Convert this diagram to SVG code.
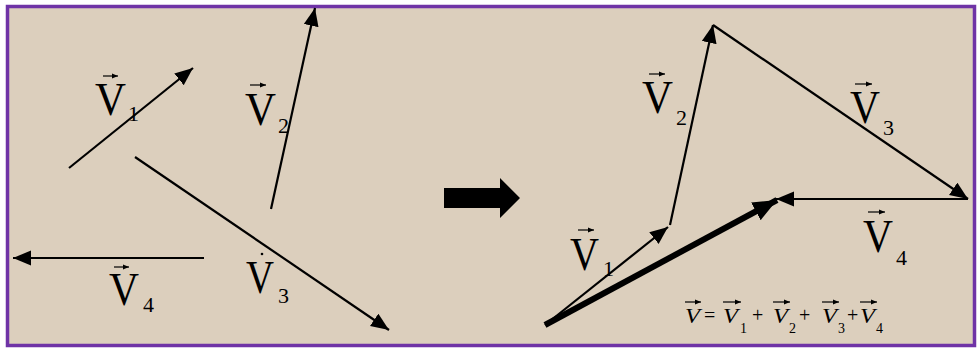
<svg xmlns="http://www.w3.org/2000/svg" width="980" height="350" viewBox="0 0 980 350">
<defs>
<style>
.vec{stroke:#000;stroke-width:2.2;fill:none}
.res{stroke:#000;stroke-width:6;fill:none}
.lbl{font-family:"Liberation Serif","Times New Roman",serif;font-size:46px;fill:#000}
.sub{font-family:"Liberation Serif","Times New Roman",serif;font-size:22px;fill:#000}
.fm{font-family:"Liberation Serif","Times New Roman",serif;font-style:italic;font-size:22px;fill:#000}
.fs{font-family:"Liberation Serif","Times New Roman",serif;font-size:14px;fill:#000}
.op{font-family:"Liberation Serif","Times New Roman",serif;font-size:20px;fill:#000}
.ov{stroke:#000;stroke-width:1.2;fill:none}
</style>
<marker id="ah" markerUnits="userSpaceOnUse" markerWidth="20" markerHeight="16" refX="18" refY="7.5" orient="auto">
<path d="M0,0 L18,7.5 L0,15 Z" fill="#000"/>
</marker>
<marker id="ahBig" markerUnits="userSpaceOnUse" markerWidth="26" markerHeight="22" refX="24" refY="10" orient="auto">
<path d="M0,0 L24,10 L0,20 Z" fill="#000"/>
</marker>
<marker id="ahs" markerUnits="userSpaceOnUse" markerWidth="8" markerHeight="8" refX="6" refY="3" orient="auto">
<path d="M0,0.5 L6,3 L0,5.5 Z" fill="#000"/>
</marker>
</defs>
<rect x="0" y="0" width="980" height="350" fill="#ffffff"/>
<rect x="7.5" y="6.5" width="967" height="339" fill="#dccfbd" stroke="#6f33a6" stroke-width="3.5"/>

<g id="connectors">
<line class="vec" x1="69" y1="168" x2="193" y2="68" marker-end="url(#ah)"/>
<line class="vec" x1="271" y1="209" x2="315" y2="8" marker-end="url(#ah)"/>
<line class="vec" x1="135" y1="157" x2="389" y2="330" marker-end="url(#ah)"/>
<line class="vec" x1="204" y1="258" x2="13" y2="258" marker-end="url(#ah)"/>
<line class="vec" x1="545" y1="325" x2="668" y2="227" marker-end="url(#ah)"/>
<line class="vec" x1="670" y1="225" x2="713" y2="25" marker-end="url(#ah)"/>
<line class="vec" x1="713" y1="25" x2="968" y2="199" marker-end="url(#ah)"/>
<line class="vec" x1="968" y1="199" x2="776" y2="199" marker-end="url(#ah)"/>
<line class="res" x1="545" y1="325" x2="777" y2="200" marker-end="url(#ahBig)"/>
</g>

<g id="bigArrow">
<path d="M444,188 L500,188 L500,178 L520,198 L500,218 L500,208 L444,208 Z" fill="#000"/>
</g>

<g id="labelLeftV1">
<line class="ov" x1="103" y1="76" x2="118" y2="76" marker-end="url(#ahs)"/>
<text class="lbl" x="95" y="115" textLength="31" lengthAdjust="spacingAndGlyphs">V</text>
<text class="sub" x="128" y="121">1</text>
</g>
<g id="labelLeftV2">
<line class="ov" x1="250" y1="85" x2="266" y2="85" marker-end="url(#ahs)"/>
<text class="lbl" x="245" y="125" textLength="31" lengthAdjust="spacingAndGlyphs">V</text>
<text class="sub" x="278" y="133">2</text>
</g>
<g id="labelLeftV3">
<circle cx="262" cy="254" r="1.3" fill="#000"/>
<text class="lbl" x="246" y="293" textLength="28" lengthAdjust="spacingAndGlyphs">V</text>
<text class="sub" x="278" y="303">3</text>
</g>
<g id="labelLeftV4">
<line class="ov" x1="114" y1="267" x2="129" y2="267" marker-end="url(#ahs)"/>
<text class="lbl" x="109" y="305" textLength="30" lengthAdjust="spacingAndGlyphs">V</text>
<text class="sub" x="143" y="312">4</text>
</g>

<g id="labelRightV1">
<line class="ov" x1="578" y1="230" x2="594" y2="230" marker-end="url(#ahs)"/>
<text class="lbl" x="570" y="270" textLength="29" lengthAdjust="spacingAndGlyphs">V</text>
<text class="sub" x="603" y="276">1</text>
</g>
<g id="labelRightV2">
<line class="ov" x1="649" y1="74" x2="665" y2="74" marker-end="url(#ahs)"/>
<text class="lbl" x="642" y="113" textLength="31" lengthAdjust="spacingAndGlyphs">V</text>
<text class="sub" x="676" y="125">2</text>
</g>
<g id="labelRightV3">
<line class="ov" x1="855" y1="84" x2="872" y2="84" marker-end="url(#ahs)"/>
<text class="lbl" x="850" y="123" textLength="30" lengthAdjust="spacingAndGlyphs">V</text>
<text class="sub" x="883" y="135">3</text>
</g>
<g id="labelRightV4">
<line class="ov" x1="868" y1="212" x2="885" y2="212" marker-end="url(#ahs)"/>
<text class="lbl" x="863" y="252" textLength="30" lengthAdjust="spacingAndGlyphs">V</text>
<text class="sub" x="896" y="265">4</text>
</g>

<g id="formula">
<line class="ov" x1="685" y1="302" x2="701" y2="302" marker-end="url(#ahs)"/>
<text class="fm" x="685" y="323" textLength="15" lengthAdjust="spacingAndGlyphs">V</text>
<text class="op" x="704" y="322">=</text>
<line class="ov" x1="723" y1="302" x2="741" y2="302" marker-end="url(#ahs)"/>
<text class="fm" x="723" y="323" textLength="15" lengthAdjust="spacingAndGlyphs">V</text>
<text class="fs" x="740" y="333">1</text>
<text class="op" x="752" y="322">+</text>
<line class="ov" x1="773" y1="302" x2="790" y2="302" marker-end="url(#ahs)"/>
<text class="fm" x="773" y="323" textLength="15" lengthAdjust="spacingAndGlyphs">V</text>
<text class="fs" x="789" y="333">2</text>
<text class="op" x="799" y="322">+</text>
<line class="ov" x1="822" y1="302" x2="839" y2="302" marker-end="url(#ahs)"/>
<text class="fm" x="822" y="323" textLength="15" lengthAdjust="spacingAndGlyphs">V</text>
<text class="fs" x="838" y="333">3</text>
<text class="op" x="847" y="322">+</text>
<line class="ov" x1="860" y1="302" x2="877" y2="302" marker-end="url(#ahs)"/>
<text class="fm" x="860" y="323" textLength="15" lengthAdjust="spacingAndGlyphs">V</text>
<text class="fs" x="876" y="333">4</text>
</g>
</svg>
